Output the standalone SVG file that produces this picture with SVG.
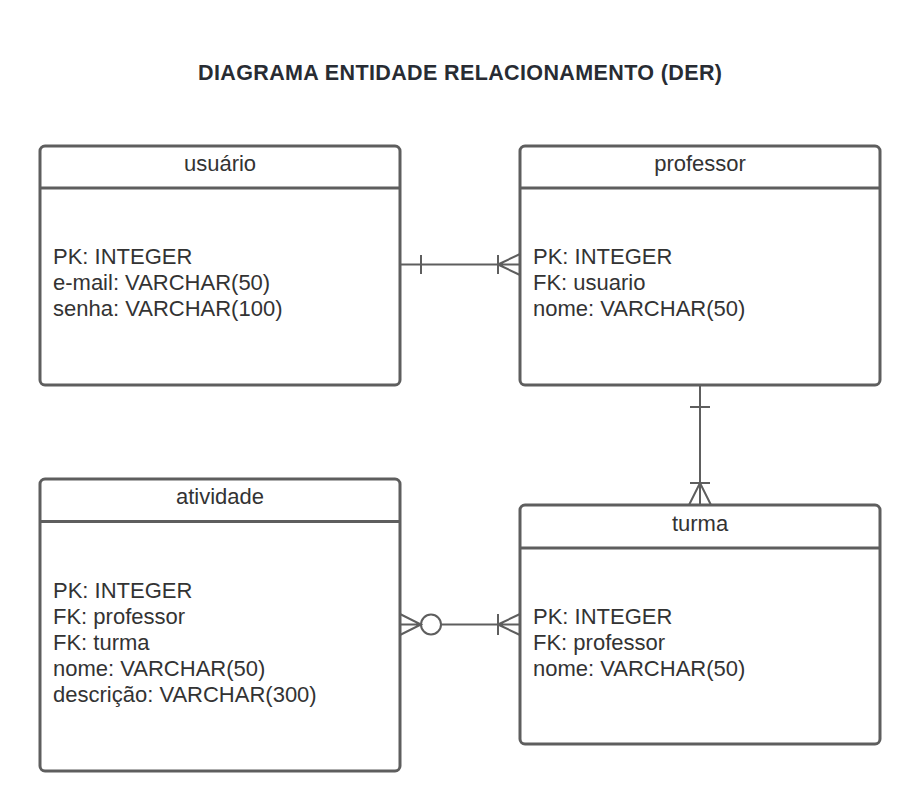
<svg xmlns="http://www.w3.org/2000/svg" width="920" height="812" viewBox="0 0 920 812">
<style>
.box{fill:#ffffff;stroke:#5e5e5e;stroke-width:3}
.hdr{stroke:#5e5e5e;stroke-width:3}
.t{font-family:"Liberation Sans",Arial,sans-serif;font-size:22px;fill:#333333}
.h{text-anchor:middle}
.title{font-family:"Liberation Sans",Arial,sans-serif;font-size:21.5px;font-weight:bold;fill:#282c33;text-anchor:middle}
.c{fill:none;stroke:#5e5e5e;stroke-width:2}
</style>
<rect width="920" height="812" fill="#ffffff"/>
<text class="title" x="460" y="80" textLength="524" lengthAdjust="spacing">DIAGRAMA ENTIDADE RELACIONAMENTO (DER)</text>

<g id="connectors">
  <path class="c" d="M400 264.5 H520 M421 255 V274 M498 255 V274 M498 264.5 L520 254 M498 264.5 L520 275"/>
  <path class="c" d="M700 385 V505 M690 407 H710 M690 483 H710 M700 483 L689 505 M700 483 L711 505"/>
  <path class="c" d="M441 624.5 H520 M400 614 L421 624.5 L400 635 M400 624.5 H421 M498 614 V635 M498 624.5 L520 614 M498 624.5 L520 635"/>
  <circle class="c" cx="431" cy="624.5" r="10"/>
</g>

<g id="usuario">
  <rect class="box" x="40" y="146" width="360" height="239" rx="5"/>
  <line class="hdr" x1="40" y1="188" x2="400" y2="188"/>
  <text class="t h" x="220" y="171">usuário</text>
  <text class="t" x="53" y="264">PK: INTEGER</text>
  <text class="t" x="53" y="290">e-mail: VARCHAR(50)</text>
  <text class="t" x="53" y="316">senha: VARCHAR(100)</text>
</g>

<g id="professor">
  <rect class="box" x="520" y="146" width="360" height="239" rx="5"/>
  <line class="hdr" x1="520" y1="188" x2="880" y2="188"/>
  <text class="t h" x="700" y="171">professor</text>
  <text class="t" x="533" y="264">PK: INTEGER</text>
  <text class="t" x="533" y="290">FK: usuario</text>
  <text class="t" x="533" y="316">nome: VARCHAR(50)</text>
</g>

<g id="atividade">
  <rect class="box" x="40" y="479" width="360" height="292" rx="5"/>
  <line class="hdr" x1="40" y1="521.5" x2="400" y2="521.5"/>
  <text class="t h" x="220" y="504">atividade</text>
  <text class="t" x="53" y="598">PK: INTEGER</text>
  <text class="t" x="53" y="624">FK: professor</text>
  <text class="t" x="53" y="650">FK: turma</text>
  <text class="t" x="53" y="676">nome: VARCHAR(50)</text>
  <text class="t" x="53" y="702">descrição: VARCHAR(300)</text>
</g>

<g id="turma">
  <rect class="box" x="520" y="505" width="360" height="239" rx="5"/>
  <line class="hdr" x1="520" y1="548" x2="880" y2="548"/>
  <text class="t h" x="700" y="531">turma</text>
  <text class="t" x="533" y="624">PK: INTEGER</text>
  <text class="t" x="533" y="650">FK: professor</text>
  <text class="t" x="533" y="676">nome: VARCHAR(50)</text>
</g>
</svg>
